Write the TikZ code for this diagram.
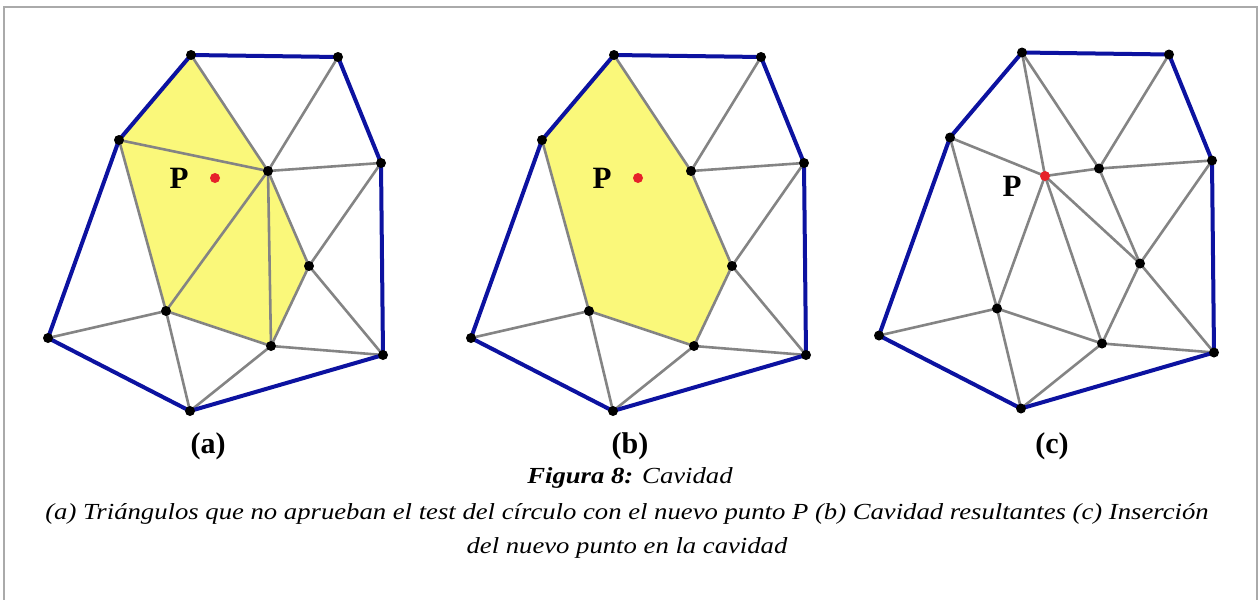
\documentclass[tikz,border=0pt]{standalone}
\usepackage{fontspec}
\setmainfont{Liberation Serif}
\newfontfamily\fuenteleyenda[FakeStretch=1.16]{Liberation Serif}
\usetikzlibrary{positioning}

\definecolor{azulborde}{RGB}{12,18,160}
\definecolor{grisarista}{RGB}{132,132,132}
\definecolor{amarillo}{RGB}{250,248,122}
\definecolor{rojoP}{RGB}{230,34,42}
\definecolor{grismarco}{RGB}{170,170,170}

% vértices de la malla (en px, y hacia abajo)
\newcommand{\definirvertices}{%
  \coordinate (v1)  at (191,55);
  \coordinate (v2)  at (338,57);
  \coordinate (v3)  at (119,140);
  \coordinate (v4)  at (381,163);
  \coordinate (v5)  at (268,171);
  \coordinate (v6)  at (309,266);
  \coordinate (v7)  at (166,311);
  \coordinate (v8)  at (48,338);
  \coordinate (v9)  at (271,346);
  \coordinate (v10) at (383,355);
  \coordinate (v11) at (190,411);
}
% aristas fuera de la cavidad + borde de la cavidad + contorno
\newcommand{\mallacomun}{%
  \draw[arista] (v1) -- (v5) -- (v6) -- (v9) -- (v7) -- (v3);
  \draw[arista] (v2) -- (v5) -- (v4);
  \draw[arista] (v4) -- (v6) -- (v10) -- (v9) -- (v11) -- (v7) -- (v8);
  \draw[borde] (v1) -- (v2) -- (v4) -- (v10) -- (v11) -- (v8) -- (v3) -- cycle;
}

\begin{document}
\begin{tikzpicture}[
  x=1pt, y=-1pt,
  marco/.style={draw=grismarco, line width=1.2pt},
  borde/.style={draw=azulborde, line width=4pt, line join=round, line cap=round},
  arista/.style={draw=grisarista, line width=2.6pt, line join=round, line cap=round},
  cavidad/.style={fill=amarillo, draw=none},
  punto/.style={circle, fill=black, inner sep=0pt, minimum size=10pt},
  puntoP/.style={circle, fill=rojoP, inner sep=0pt, minimum size=10pt},
  etiqP/.style={font=\fontsize{31}{31}\selectfont\bfseries, inner sep=0pt},
  subfig/.style={font=\fontsize{30}{30}\selectfont\bfseries, inner sep=0pt},
  leyenda/.style={font=\fuenteleyenda\fontsize{23}{34}\selectfont\itshape, align=center, inner sep=0pt}
]
\useasboundingbox (0,0) rectangle (1259,600);
\fill[white] (0,0) rectangle (1259,600);
\draw[marco] (4,600) -- (4,7) -- (1257,7) -- (1257,600);

% ----- (a) Triángulos que fallan el test -----
\begin{scope}[name prefix=a-]
  \definirvertices
  \fill[cavidad] (v3) -- (v1) -- (v5) -- (v6) -- (v9) -- (v7) -- cycle;
  \draw[arista] (v3) -- (v5) (v7) -- (v5) -- (v9);
  \mallacomun
  \foreach \i in {1,...,11} \node[punto] (p\i) at (v\i) {};
  \node[puntoP] (P) at (215,178) {};
  \node[etiqP] (etiq) at (179,178) {P};
\end{scope}
\node[subfig] (sa) at (208,446) {(a)};

% ----- (b) Cavidad resultante -----
\begin{scope}[shift={(423,0)}, name prefix=b-]
  \definirvertices
  \fill[cavidad] (v3) -- (v1) -- (v5) -- (v6) -- (v9) -- (v7) -- cycle;
  \mallacomun
  \foreach \i in {1,...,11} \node[punto] (p\i) at (v\i) {};
  \node[puntoP] (P) at (215,178) {};
  \node[etiqP] (etiq) at (179,178) {P};
\end{scope}
\node[subfig] (sb) at (630,446) {(b)};

% ----- (c) Inserción del punto -----
\begin{scope}[shift={(831,-2.5)}, name prefix=c-]
  \definirvertices
  \coordinate (vP) at (214,178.5);
  \draw[arista] (vP) -- (v1) (vP) -- (v3) (vP) -- (v5)
                (vP) -- (v6) (vP) -- (v7) (vP) -- (v9);
  \mallacomun
  \foreach \i in {1,...,11} \node[punto] (p\i) at (v\i) {};
  \node[puntoP] (P) at (vP) {};
  \node[etiqP] (etiq) at (181,189) {P};
\end{scope}
\node[subfig] (sc) at (1052,446) {(c)};

% ----- Pie de figura -----
\node[leyenda] (tit) at (630,478) {\textbf{Figura 8:} Cavidad};
\node[leyenda] (desc) at (627,531)
  {(a) Triángulos que no aprueban el test del círculo con el nuevo punto P (b) Cavidad resultantes (c) Inserción\\
   del nuevo punto en la cavidad};

\end{tikzpicture}
\end{document}
